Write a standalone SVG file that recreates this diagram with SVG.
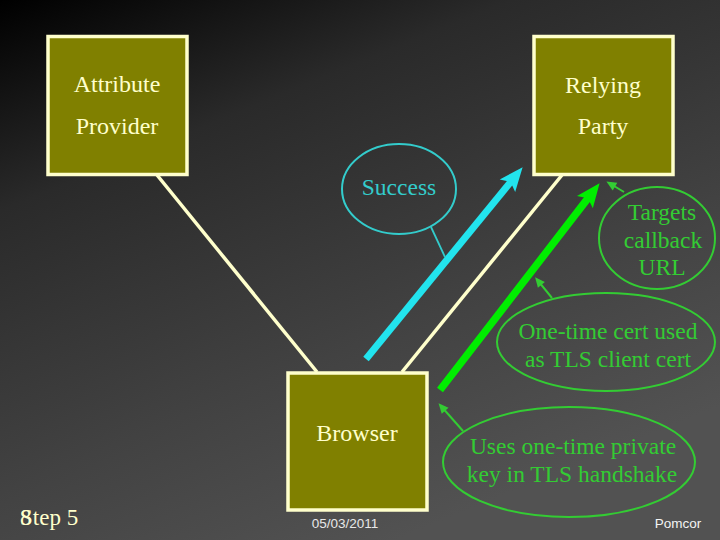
<svg xmlns="http://www.w3.org/2000/svg" width="720" height="540" viewBox="0 0 720 540">
<style>
.box{fill:#808000;stroke:#ffffcc;stroke-width:3.5}
.lbl{font-size:24px;fill:#ffffcc;text-anchor:middle}
.link{stroke:#ffffcc;stroke-width:3.5;fill:none}
.gtxt{font-size:23.5px;fill:#33cc33;text-anchor:middle}
.gell{fill:none;stroke:#33cc33;stroke-width:2}
.ctxt{font-size:23.5px;fill:#33cccc;text-anchor:middle}
.foot{font-size:13.5px;text-anchor:middle}
</style>
<defs>
<linearGradient id="bg" x1="0" y1="0" x2="0.55" y2="1">
<stop offset="0" stop-color="#000000"/>
<stop offset="0.3" stop-color="#2a2a2a"/>
<stop offset="0.7" stop-color="#424242"/>
<stop offset="1" stop-color="#525252"/>
</linearGradient>
<marker id="hc" markerUnits="userSpaceOnUse" viewBox="-10 -10 30 20" markerWidth="30" markerHeight="20" refX="0" refY="0" orient="auto" overflow="visible">
<path d="M16,0 L-8,-10 L-3,0 L-8,10 Z" fill="#22e4ee"/>
</marker>
<marker id="hg" markerUnits="userSpaceOnUse" viewBox="-10 -10 30 20" markerWidth="30" markerHeight="20" refX="0" refY="0" orient="auto" overflow="visible">
<path d="M16,0 L-8,-10 L-3,0 L-8,10 Z" fill="#00ee00"/>
</marker>
<marker id="hs" markerUnits="userSpaceOnUse" viewBox="-10 -6 14 12" markerWidth="14" markerHeight="12" refX="0" refY="0" orient="auto" overflow="visible">
<path d="M3,0 L-7,-4.5 L-7,4.5 Z" fill="#33cc33"/>
</marker>
</defs>
<rect width="720" height="540" fill="url(#bg)"/>
<g id="connectors">
<line class="link" x1="157" y1="175" x2="317" y2="372"/>
<line class="link" x1="562" y1="175" x2="402" y2="372"/>
<line x1="366" y1="359" x2="512.5" y2="179.6" stroke="#22e4ee" stroke-width="7" marker-end="url(#hc)"/>
<line x1="440" y1="390" x2="589.8" y2="195.9" stroke="#00ee00" stroke-width="7.5" marker-end="url(#hg)"/>
<line x1="431" y1="227" x2="445" y2="257" stroke="#33cccc" stroke-width="1.8"/>
<line x1="624" y1="192" x2="609" y2="183" stroke="#33cc33" stroke-width="2" marker-end="url(#hs)"/>
<line x1="552" y1="298" x2="537" y2="279.5" stroke="#33cc33" stroke-width="2" marker-end="url(#hs)"/>
<line x1="463" y1="431" x2="440.5" y2="405.5" stroke="#33cc33" stroke-width="2" marker-end="url(#hs)"/>
</g>
<g id="attribute-provider" font-family="'Liberation Serif', 'Times New Roman', 'DejaVu Serif', serif">
<rect class="box" x="48" y="36.5" width="139" height="138"/>
<text class="lbl" x="117" y="91.5">Attribute</text>
<text class="lbl" x="117" y="134">Provider</text>
</g>
<g id="relying-party" font-family="'Liberation Serif', 'Times New Roman', 'DejaVu Serif', serif">
<rect class="box" x="534" y="36.5" width="139" height="138"/>
<text class="lbl" x="603" y="92.5">Relying</text>
<text class="lbl" x="603" y="134">Party</text>
</g>
<g id="browser" font-family="'Liberation Serif', 'Times New Roman', 'DejaVu Serif', serif">
<rect class="box" x="288" y="373" width="139" height="137"/>
<text class="lbl" x="357" y="440.5">Browser</text>
</g>
<g id="success" font-family="'Liberation Serif', 'Times New Roman', 'DejaVu Serif', serif">
<ellipse cx="399" cy="189" rx="57" ry="45" fill="none" stroke="#33cccc" stroke-width="2"/>
<text class="ctxt" x="399" y="194.5">Success</text>
</g>
<g id="targets-callback" font-family="'Liberation Serif', 'Times New Roman', 'DejaVu Serif', serif">
<ellipse class="gell" cx="657" cy="238" rx="58" ry="51"/>
<text class="gtxt" x="662" y="219.5">Targets</text>
<text class="gtxt" x="663" y="247.5">callback</text>
<text class="gtxt" x="662" y="275">URL</text>
</g>
<g id="one-time-cert" font-family="'Liberation Serif', 'Times New Roman', 'DejaVu Serif', serif">
<ellipse class="gell" cx="606" cy="342" rx="109" ry="49"/>
<text class="gtxt" x="608" y="338.5">One-time cert used</text>
<text class="gtxt" x="608" y="366.5">as TLS client cert</text>
</g>
<g id="uses-private-key" font-family="'Liberation Serif', 'Times New Roman', 'DejaVu Serif', serif">
<ellipse class="gell" cx="569" cy="462" rx="126" ry="55"/>
<text class="gtxt" x="573" y="453.5">Uses one-time private</text>
<text class="gtxt" x="572" y="481.5">key in TLS handshake</text>
</g>
<g id="footer">
<text x="20" y="525" font-family="'Liberation Serif', 'Times New Roman', 'DejaVu Serif', serif" font-size="23" fill="#ffffcc">8</text>
<text x="20" y="525" font-family="'Liberation Serif', 'Times New Roman', 'DejaVu Serif', serif" font-size="23" fill="#ffffcc">Step 5</text>
<text class="foot" x="345" y="528" fill="#e8e8e8" font-family="'Liberation Sans', Arial, sans-serif">05/03/2011</text>
<text class="foot" x="678" y="528" fill="#f4f4f4" font-family="'Liberation Sans', Arial, sans-serif">Pomcor</text>
</g>
</svg>
